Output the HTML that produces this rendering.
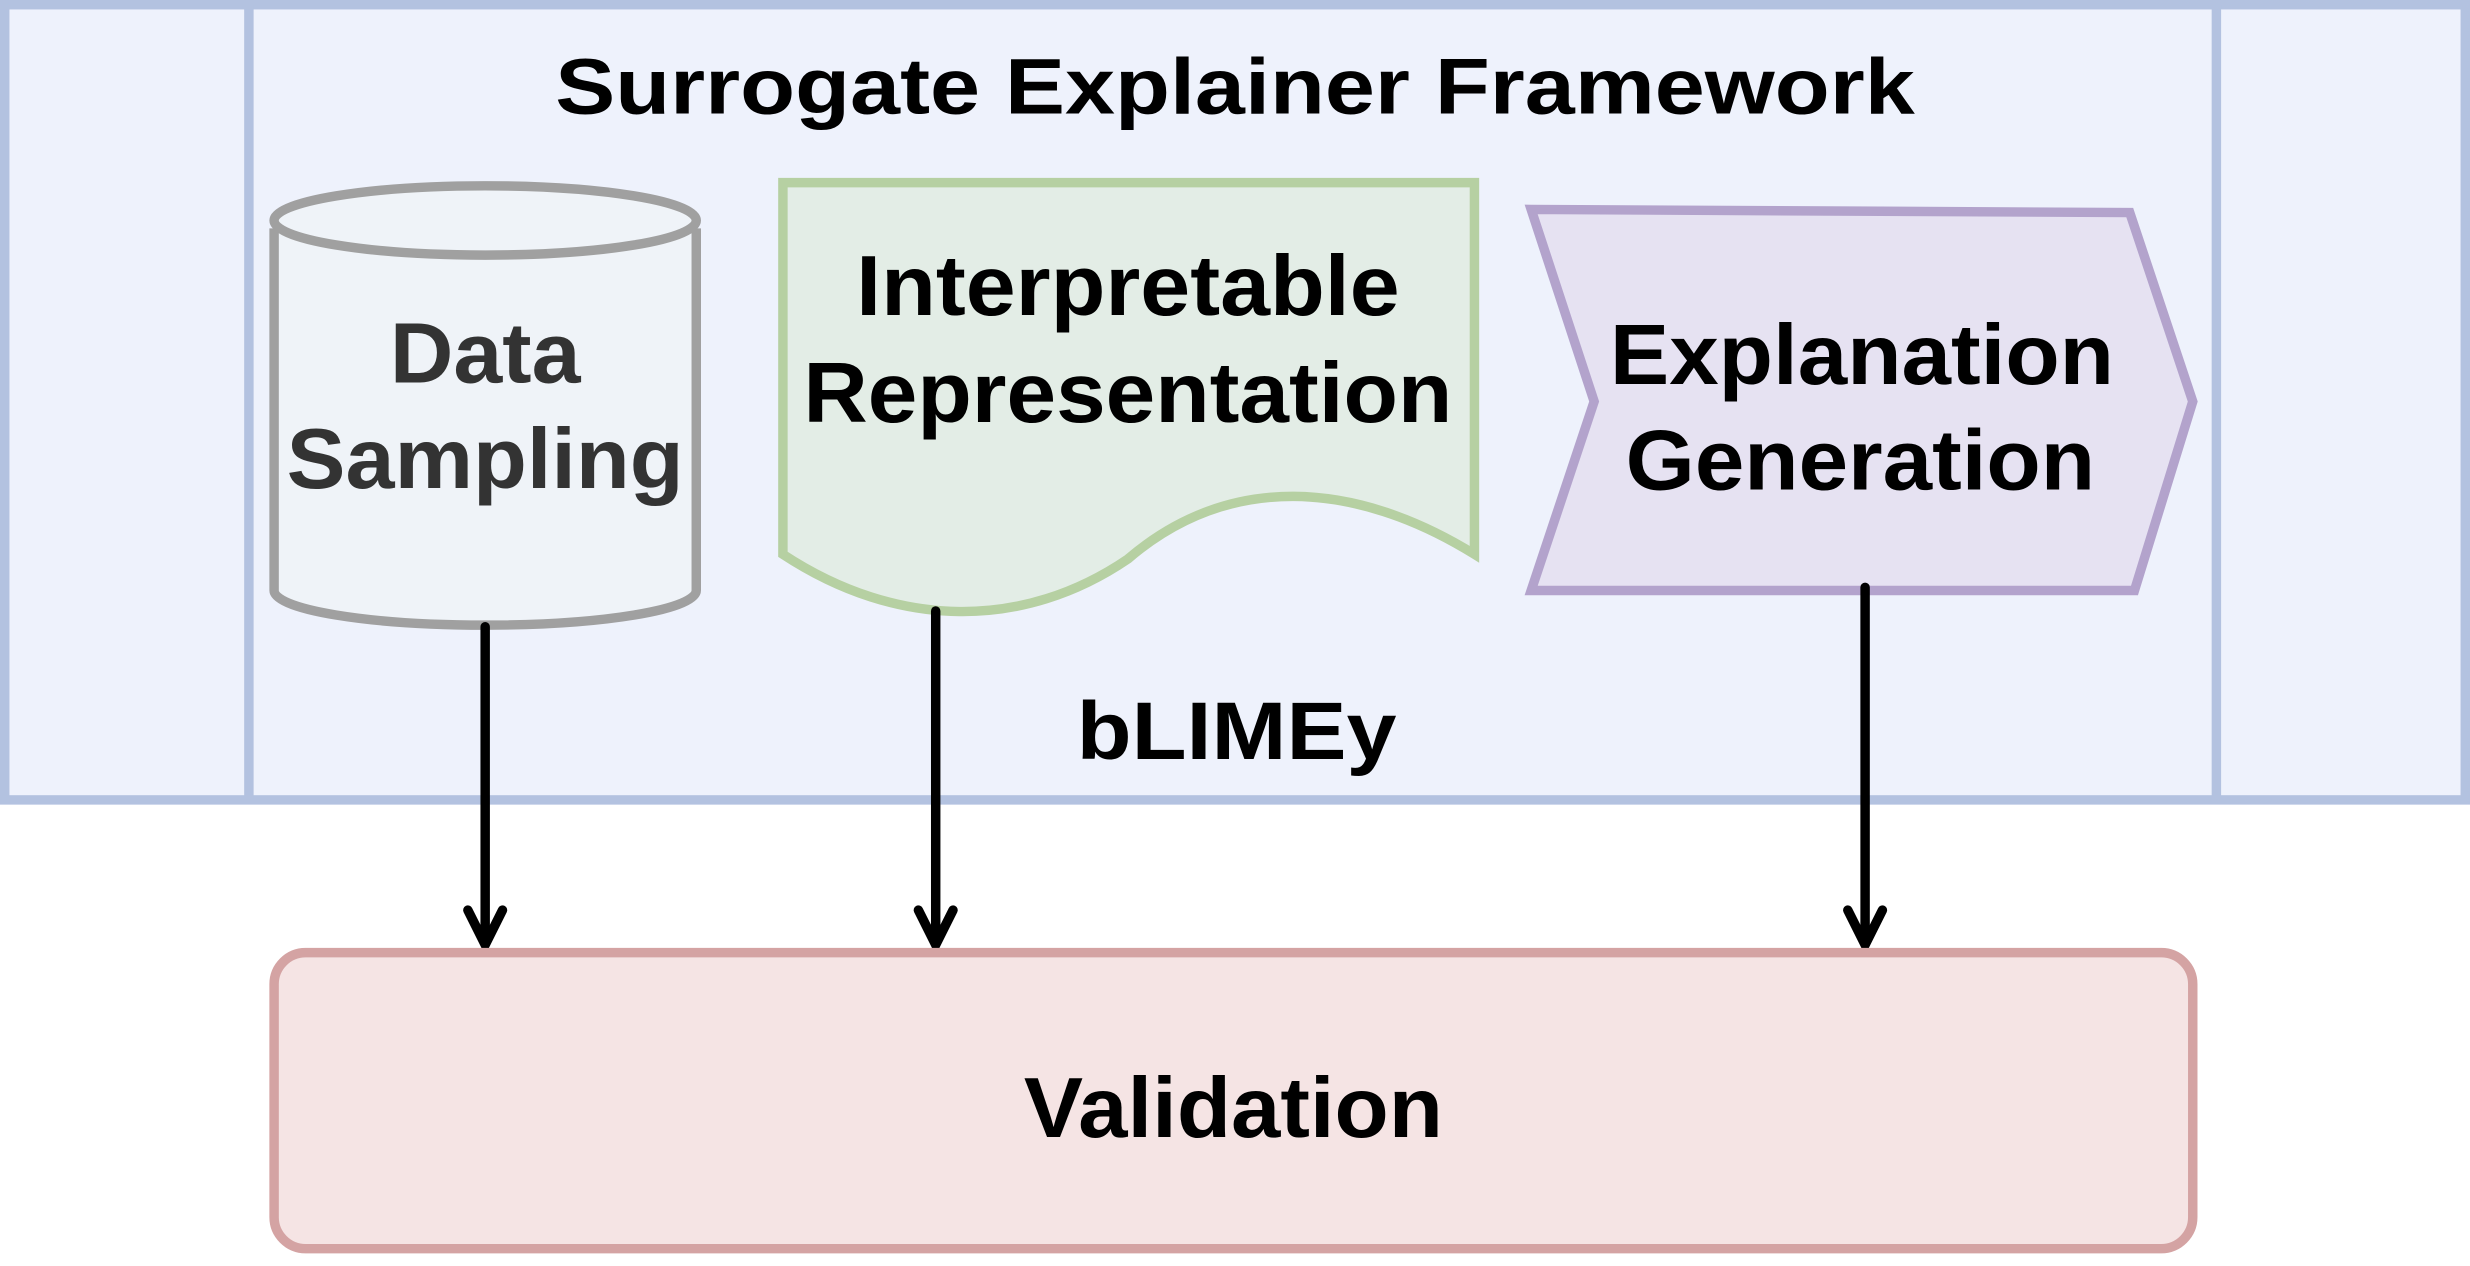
<!DOCTYPE html>
<html><head><meta charset="utf-8"><style>
html,body{margin:0;padding:0;background:#fff;}
svg{display:block;}
text{font-family:"Liberation Sans",sans-serif;font-weight:bold;text-anchor:middle;}
</style></head><body>
<svg width="2470" height="1266" viewBox="0 0 1568 804" preserveAspectRatio="none" xmlns="http://www.w3.org/2000/svg">
<rect x="3" y="3" width="1562" height="505" fill="#eef2fc" stroke="#b3c2e0" stroke-width="6"/>
<line x1="158" y1="3" x2="158" y2="508" stroke="#b3c2e0" stroke-width="6"/>
<line x1="1407" y1="3" x2="1407" y2="508" stroke="#b3c2e0" stroke-width="6"/>
<text x="784" y="72" font-size="50" fill="#000" textLength="863" lengthAdjust="spacingAndGlyphs">Surrogate Explainer Framework</text>

<path d="M174,145 L174,375 A134,22 0 0 0 442,375 L442,145" fill="#eff3f8" stroke="#a0a0a0" stroke-width="6"/>
<ellipse cx="308" cy="140" rx="134" ry="22" fill="#eff3f8" stroke="#a0a0a0" stroke-width="6"/>
<text x="308" y="243" font-size="54" fill="#333" textLength="121" lengthAdjust="spacingAndGlyphs">Data</text>
<text x="308" y="310" font-size="54" fill="#333" textLength="252" lengthAdjust="spacingAndGlyphs">Sampling</text>

<path d="M497,116 L936,116 L936,352 C860,305 780,300 716,355 C650,400 570,400 497,352 Z" fill="#e3ede6" stroke="#b6d0a2" stroke-width="6"/>
<text x="716" y="200" font-size="54" fill="#000" textLength="345" lengthAdjust="spacingAndGlyphs">Interpretable</text>
<text x="716" y="268" font-size="54" fill="#000" textLength="412" lengthAdjust="spacingAndGlyphs">Representation</text>

<path d="M972,133 L1352,135 L1392,255 L1355,375 L972,375 L1012,255 Z" fill="#e6e2f2" stroke="#b3a3cc" stroke-width="6"/>
<text x="1182" y="244" font-size="54" fill="#000" textLength="320" lengthAdjust="spacingAndGlyphs">Explanation</text>
<text x="1181" y="311" font-size="54" fill="#000" textLength="298" lengthAdjust="spacingAndGlyphs">Generation</text>

<text x="785" y="482" font-size="52" fill="#000" textLength="203" lengthAdjust="spacingAndGlyphs">bLIMEy</text>

<g stroke="#000" stroke-width="6" fill="none" stroke-linecap="round">
<path d="M308,398 L308,598"/><path d="M297,578 L308,600 L319,578"/>
<path d="M594,388 L594,598"/><path d="M583,578 L594,600 L605,578"/>
<path d="M1184,373 L1184,598"/><path d="M1173,578 L1184,600 L1195,578"/>
</g>

<rect x="174" y="605" width="1218" height="188" rx="20" fill="#f5e4e4" stroke="#d4a3a3" stroke-width="6"/>
<text x="783" y="722" font-size="54" fill="#000" textLength="266" lengthAdjust="spacingAndGlyphs">Validation</text>
</svg>
</body></html>
